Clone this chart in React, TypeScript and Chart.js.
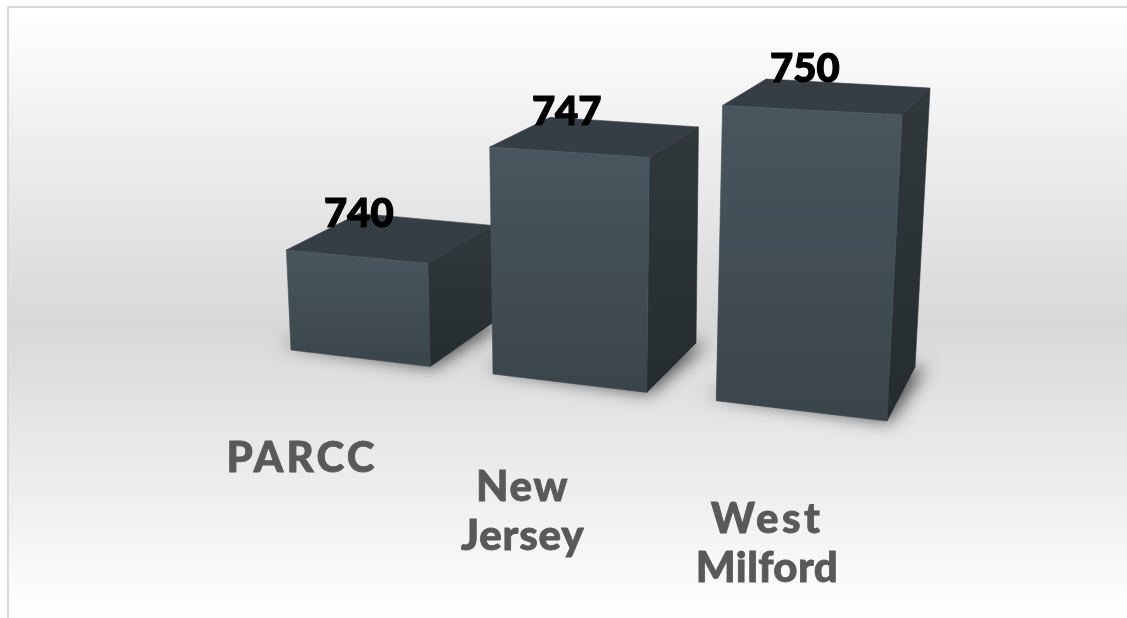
import React, { useEffect, useRef } from "react";
import { Chart, registerables } from "chart.js";

Chart.register(...registerables);

const categories: (string | string[])[] = ["PARCC", ["New", "Jersey"], ["West", "Milford"]];
const scores: number[] = [740, 747, 750];
const axisMin = 733.8;
const axisMax = 750;

// Camera for the 3D look: maps normalised plot coordinates to the screen.
type M = number[];
const FRONT_PLANE: M = [531.8, -23.75, 262.35, 18.7, -269.6, 346.6, -0.1417, -0.0408];
const BACK_PLANE: M = [499.4, -29, 336.8, 23.1, -251.4, 303.5, -0.1194, -0.0455];
const LABEL_PLANE: M = [572.3, 0, 199.5, 15.75, 0, 444.6, -0.1417, 0];
const LABEL_TRACKING: number[][] = [[3.2], [1.8, 0.8], [3.4, 0.4]];

const project = (m: M, u: number, v: number): [number, number] => {
  const w = m[6] * u + m[7] * v + 1;
  return [(m[0] * u + m[1] * v + m[2]) / w, (m[3] * u + m[4] * v + m[5]) / w];
};

const poly = (ctx: CanvasRenderingContext2D, pts: [number, number][]) => {
  ctx.beginPath();
  pts.forEach((p, i) => (i ? ctx.lineTo(p[0], p[1]) : ctx.moveTo(p[0], p[1])));
  ctx.closePath();
};

const face = (ctx: CanvasRenderingContext2D, pts: [number, number][], paint: any) => {
  ctx.fillStyle = paint;
  ctx.strokeStyle = paint;
  ctx.lineWidth = 0.6;
  poly(ctx, pts);
  ctx.fill();
  ctx.stroke();
};

const FONT = "Lato, 'Open Sans', sans-serif";

const box3d = {
  id: "box3d",
  beforeDraw(chart: any) {
    const { ctx, width, height } = chart;
    ctx.save();
    ctx.fillStyle = "#ffffff";
    ctx.fillRect(0, 0, width, height);
    const g = ctx.createLinearGradient(0, 8, 0, height);
    g.addColorStop(0, "#ffffff");
    g.addColorStop(0.516, "#d8d8d8");
    g.addColorStop(1, "#ffffff");
    ctx.fillStyle = g;
    ctx.fillRect(9, 8, width - 9, height - 8);
    ctx.fillStyle = "#d9d9d9";
    ctx.fillRect(7, 6, width - 7, 2);
    ctx.fillRect(7, 6, 2, height - 6);
    ctx.restore();
  },
  afterDatasetsDraw(chart: any) {
    const { ctx, chartArea: a } = chart;
    const meta = chart.getDatasetMeta(0);
    const nu = (x: number) => (x - a.left) / (a.right - a.left);
    const nv = (y: number) => (a.bottom - y) / (a.bottom - a.top);
    meta.data.forEach((bar: any) => {
      const u0 = nu(bar.x - bar.width / 2);
      const u1 = nu(bar.x + bar.width / 2);
      const vt = nv(bar.y);
      const vb = nv(bar.base);
      const fbl = project(FRONT_PLANE, u0, vb);
      const fbr = project(FRONT_PLANE, u1, vb);
      const ftl = project(FRONT_PLANE, u0, vt);
      const ftr = project(FRONT_PLANE, u1, vt);
      const bbr = project(BACK_PLANE, u1, vb);
      const btr = project(BACK_PLANE, u1, vt);
      const btl = project(BACK_PLANE, u0, vt);

      // soft shadow on the floor: the casting shape itself stays off-canvas
      const away = 3000;
      ctx.save();
      ctx.shadowColor = "rgba(0,0,0,0.7)";
      ctx.shadowBlur = 18;
      ctx.shadowOffsetX = away + 3;
      ctx.shadowOffsetY = 0;
      ctx.fillStyle = "#000";
      poly(ctx, [
        [fbl[0] - 14 - away, fbl[1] - 7],
        [fbr[0] - away, fbr[1]],
        [bbr[0] + 7 - away, bbr[1]],
        [bbr[0] - 20 - away, fbl[1] - 30],
      ]);
      ctx.fill();
      ctx.restore();

      // top face
      face(ctx, [ftl, ftr, btr, btl], "#353e44");

      // side face
      const sg = ctx.createLinearGradient(0, Math.min(ftr[1], btr[1]), 0, fbr[1]);
      sg.addColorStop(0, "#30383b");
      sg.addColorStop(1, "#252c2f");
      face(ctx, [ftr, btr, bbr, fbr], sg);

      // front face
      const fg = ctx.createLinearGradient(0, ftl[1], 0, fbr[1]);
      fg.addColorStop(0, "#49565d");
      fg.addColorStop(1, "#3a454b");
      face(ctx, [ftl, ftr, fbr, fbl], fg);
    });

    // labels go above all the boxes
    meta.data.forEach((bar: any, i: number) => {
      const c = nu(bar.x);
      const lab = categories[i];
      const lines = Array.isArray(lab) ? lab : [lab];
      const lp = project(LABEL_PLANE, c, 0);
      ctx.save();
      ctx.font = `900 42px ${FONT}`;
      ctx.fillStyle = "#595959";
      ctx.strokeStyle = "#595959";
      ctx.lineWidth = 0.8;
      ctx.textAlign = "center";
      ctx.textBaseline = "middle";
      lines.forEach((t: string, k: number) => {
        ctx.letterSpacing = `${LABEL_TRACKING[i][k]}px`;
        ctx.fillText(t, lp[0], lp[1] + k * 49);
        ctx.strokeText(t, lp[0], lp[1] + k * 49);
      });
      ctx.letterSpacing = "0px";

      const vt = nv(bar.y);
      const f = project(FRONT_PLANE, c, vt);
      const b = project(BACK_PLANE, c, vt);
      const vx = f[0] + 3 - 13 * (c - 0.1667);
      const vy = b[1] - (3 + 14 * c);
      ctx.font = `900 40px ${FONT}`;
      ctx.fillStyle = "#000000";
      ctx.strokeStyle = "#000000";
      ctx.lineWidth = 1.2;
      ctx.fillText(String(scores[i]), vx, vy);
      ctx.strokeText(String(scores[i]), vx, vy);
      ctx.restore();
    });
  },
};

export default function App() {
  const ref = useRef<HTMLCanvasElement>(null);
  useEffect(() => {
    const chart = new Chart(ref.current!, {
      type: "bar",
      data: {
        labels: categories as any,
        datasets: [
          {
            label: "Score",
            data: scores,
            base: axisMin,
            backgroundColor: "rgba(0,0,0,0)",
            barPercentage: 0.7,
            categoryPercentage: 1,
          },
        ],
      },
      options: {
        animation: false,
        responsive: false,
        layout: { padding: 0 },
        plugins: { legend: { display: false }, title: { display: false }, tooltip: { enabled: false } },
        scales: {
          x: { display: false },
          y: { display: false, min: axisMin, max: axisMax },
        },
      },
      plugins: [box3d],
    });
    return () => chart.destroy();
  }, []);
  return (
    <canvas
      ref={ref}
      width={1127}
      height={618}
      style={{ position: "fixed", left: 0, top: 0, width: 1127, height: 618, display: "block" }}
    />
  );
}
